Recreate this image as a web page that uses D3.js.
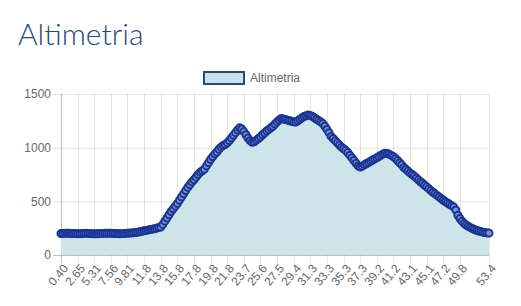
<!DOCTYPE html>
<html>
<head>
<meta charset="utf-8">
<script src="https://cdn.jsdelivr.net/npm/d3@7"></script>
<style>
  body { margin: 0; background: #fff; }
  #chart { display: block; }
</style>
</head>
<body>
<svg id="chart" width="521" height="306"></svg>
<script>
// elevation (m) of each track point
const elevation = [
  200, 201, 202, 203, 202, 201, 200, 200, 199, 199,
  200, 201, 202, 201, 200, 199, 198, 198, 199, 200,
  201, 202, 203, 203, 202, 201, 200, 200, 199, 199,
  200, 201, 203, 205, 206, 208, 210, 213, 217, 221,
  225, 229, 233, 237, 241, 245, 250, 256, 260, 285,
  315, 345, 375, 405, 430, 455, 480, 510, 540, 570,
  600, 630, 655, 680, 700, 725, 750, 770, 785, 800,
  830, 860, 890, 915, 940, 960, 985, 1005, 1020, 1030,
  1045, 1065, 1090, 1115, 1140, 1165, 1185, 1175, 1150, 1120,
  1090, 1065, 1050, 1055, 1070, 1085, 1100, 1120, 1137, 1155,
  1170, 1185, 1200, 1220, 1240, 1258, 1272, 1268, 1262, 1256,
  1250, 1245, 1240, 1238, 1250, 1265, 1278, 1290, 1298, 1304,
  1300, 1290, 1278, 1265, 1252, 1240, 1225, 1200, 1170, 1140,
  1105, 1085, 1065, 1045, 1025, 1005, 990, 975, 955, 930,
  905, 880, 855, 830, 820, 828, 840, 850, 862, 873,
  885, 895, 905, 918, 930, 940, 948, 945, 938, 928,
  915, 900, 880, 860, 840, 815, 800, 782, 765, 750,
  735, 718, 700, 682, 668, 650, 635, 618, 600, 585,
  570, 555, 540, 525, 510, 497, 485, 472, 460, 448,
  420, 370, 340, 315, 295, 280, 268, 257, 247, 238,
  230, 224, 218, 213, 209, 206, 204
];

// distance labels (km) that survive the auto-skip
const tickLabels = [
  "0.40", "2.65", "5.31", "7.56", "9.81", "11.8", "13.8", "15.8", "17.8", "19.8",
  "21.8", "23.7", "25.6", "27.5", "29.4", "31.3", "33.3", "35.3", "37.3", "39.2",
  "41.2", "43.1", "45.1", "47.2", "49.8", "53.4"
];
const yTicks = [0, 500, 1000, 1500];
const seriesName = "Altimetria";
const title = "Altimetria";

const svg = d3.select("#chart");
const plot = { left: 61, right: 489, top: 94, bottom: 255 };
const n = elevation.length;

const x = d3.scalePoint().domain(d3.range(n)).range([plot.left, plot.right]);
const y = d3.scaleLinear().domain([0, 1500]).range([plot.bottom, plot.top]);

// every 8th point gets a label, plus the last one
const skip = 8;
const tickIdx = [];
for (let i = 0; i < n; i += skip) {
  if (i + skip < n) tickIdx.push(i);
}
tickIdx.push(n - 1);

// title
svg.append("text")
  .attr("x", 18).attr("y", 45)
  .attr("font-family", "Lato, sans-serif")
  .attr("font-weight", 300)
  .attr("font-size", 30)
  .attr("fill", "#1f4a7c")
  .text(title);

// legend
svg.append("rect")
  .attr("x", 204).attr("y", 72).attr("width", 40).attr("height", 12)
  .attr("fill", "#c9e1ee").attr("stroke", "#2f4a6b").attr("stroke-width", 2);
svg.append("text")
  .attr("x", 250).attr("y", 78).attr("dy", "0.35em")
  .attr("font-family", "Liberation Sans, Arial, sans-serif")
  .attr("font-size", 12).attr("fill", "#666")
  .text(seriesName);

// horizontal grid + y axis
const yAxis = svg.append("g");
yTicks.forEach(t => {
  yAxis.append("line")
    .attr("x1", plot.left - 8).attr("x2", plot.right)
    .attr("y1", y(t) + 0.5).attr("y2", y(t) + 0.5)
    .attr("stroke", t === 0 ? "rgba(0,0,0,0.25)" : "rgba(0,0,0,0.1)");
  yAxis.append("text")
    .attr("x", plot.left - 10).attr("y", y(t)).attr("dy", "0.35em")
    .attr("text-anchor", "end")
    .attr("font-family", "Liberation Sans, Arial, sans-serif")
    .attr("font-size", 12).attr("fill", "#666")
    .text(t);
});

// vertical grid + x labels
const xAxis = svg.append("g");
tickIdx.forEach((idx, k) => {
  const px = Math.round(x(idx)) + 0.5;
  xAxis.append("line")
    .attr("x1", px).attr("x2", px)
    .attr("y1", plot.top).attr("y2", plot.bottom + 8)
    .attr("stroke", k === 0 ? "rgba(0,0,0,0.25)" : "rgba(0,0,0,0.1)");
  xAxis.append("text")
    .attr("transform", `translate(${px + 4},${plot.bottom + 11}) rotate(-50)`)
    .attr("text-anchor", "end").attr("dy", "0.35em")
    .attr("font-family", "Liberation Sans, Arial, sans-serif")
    .attr("font-size", 12).attr("fill", "#666")
    .text(tickLabels[k]);
});

// area + line
svg.append("path")
  .datum(elevation)
  .attr("fill", "#cde5e8")
  .attr("d", d3.area().x((d, i) => x(i)).y0(plot.bottom).y1(d => y(d)));

svg.append("path")
  .datum(elevation)
  .attr("fill", "none")
  .attr("stroke", "#1a3594")
  .attr("stroke-width", 3)
  .attr("d", d3.line().x((d, i) => x(i)).y(d => y(d)));

// point markers
svg.append("g").selectAll("circle")
  .data(elevation)
  .join("circle")
  .attr("cx", (d, i) => x(i))
  .attr("cy", d => y(d))
  .attr("r", 3.5)
  .attr("fill", "#7f96d0")
  .attr("stroke", "#1a3594")
  .attr("stroke-width", 2);
</script>
</body>
</html>
